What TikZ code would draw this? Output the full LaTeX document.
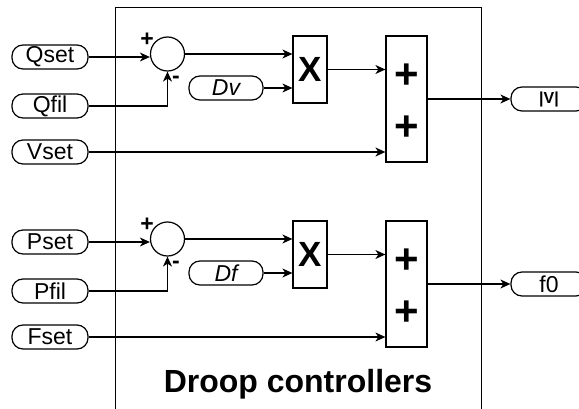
\documentclass[tikz,border=0pt]{standalone}
\usepackage{fontspec}
\setmainfont{Liberation Sans}
\usetikzlibrary{arrows.meta}
\tikzset{
    box/.style={draw, line width=1.2pt, inner sep=0pt},
    pill/.style={draw, line width=1.2pt, rounded corners=11pt, minimum width=76pt,
                 minimum height=24pt, inner sep=0pt, font=\fontsize{23}{24}\selectfont},
    gain/.style={pill, minimum width=74pt, font=\fontsize{23}{24}\selectfont\itshape},
    junction/.style={circle, draw, line width=1.2pt, minimum size=34pt, inner sep=0pt},
    mult/.style={box, minimum width=34pt, minimum height=67pt,
                 font=\fontsize{35}{36}\selectfont\bfseries},
    adder/.style={box, minimum width=41pt, minimum height=126pt},
    plus/.style={font=\fontsize{42}{42}\selectfont\bfseries, inner sep=0pt},
    sign/.style={font=\fontsize{23}{23}\selectfont\bfseries, inner sep=0pt},
    flow/.style={-{Stealth[length=10pt, width=9pt, inset=3pt]}, line width=1.2pt},
    title/.style={font=\fontsize{32}{34}\selectfont\bfseries, anchor=base},
}

\begin{document}
\begin{tikzpicture}[x=1pt, y=1pt]

    \useasboundingbox (0,0) rectangle (579,408);
    \clip (0,0) rectangle (579,408);
    \node[box, minimum width=366pt, minimum height=420pt, anchor=north west] (frame) at (115,401) {};
    \node[title] (title) at (298,16) {Droop controllers};

    \node[pill] (qset) at (50,351) {Qset};
    \node[pill] (qfil) at (50,302) {Qfil};
    \node[pill] (vset) at (50,256) {Vset};
    \node[junction] (sumq) at (167.5,354) {};
    \node[sign] (sumq-p) at (147,368) {+};
    \node[sign] (sumq-m) at (176,328) {-};
    \node[gain] (dv) at (226,320) {Dv};
    \node[mult] (mulq) at (310,338.5) {X};
    \node[adder] (addq) at (406.5,309) {};
    \node[plus] (addq-a) at (406.5,332) {+};
    \node[plus] (addq-b) at (406.5,280) {+};
    \node[pill] (vout) at (549,309) {\fontsize{16}{16}\selectfont\bfseries |V|};
    \draw[flow] (qset) -- (qset -| sumq.west);
    \draw[flow] (qfil) -| (sumq);
    \draw[flow] (sumq) -- (sumq -| mulq.west);
    \draw[flow] (dv) -- (dv -| mulq.west);
    \draw[flow] (mulq) -- (mulq -| addq.west);
    \draw[flow] (vset) -- (vset -| addq.west);
    \draw[flow] (addq) -- (vout);

    \node[pill] (pset) at (50,166) {Pset};
    \node[pill] (pfil) at (50,117) {Pfil};
    \node[pill] (fset) at (50,71) {Fset};
    \node[junction] (sump) at (167.5,169) {};
    \node[sign] (sump-p) at (147,183) {+};
    \node[sign] (sump-m) at (176,143) {-};
    \node[gain] (df) at (226,135) {Df};
    \node[mult] (mulp) at (310,153.5) {X};
    \node[adder] (addp) at (406.5,124) {};
    \node[plus] (addp-a) at (406.5,147) {+};
    \node[plus] (addp-b) at (406.5,95) {+};
    \node[pill] (fout) at (549,124) {f0};
    \draw[flow] (pset) -- (pset -| sump.west);
    \draw[flow] (pfil) -| (sump);
    \draw[flow] (sump) -- (sump -| mulp.west);
    \draw[flow] (df) -- (df -| mulp.west);
    \draw[flow] (mulp) -- (mulp -| addp.west);
    \draw[flow] (fset) -- (fset -| addp.west);
    \draw[flow] (addp) -- (fout);

\end{tikzpicture}
\end{document}
